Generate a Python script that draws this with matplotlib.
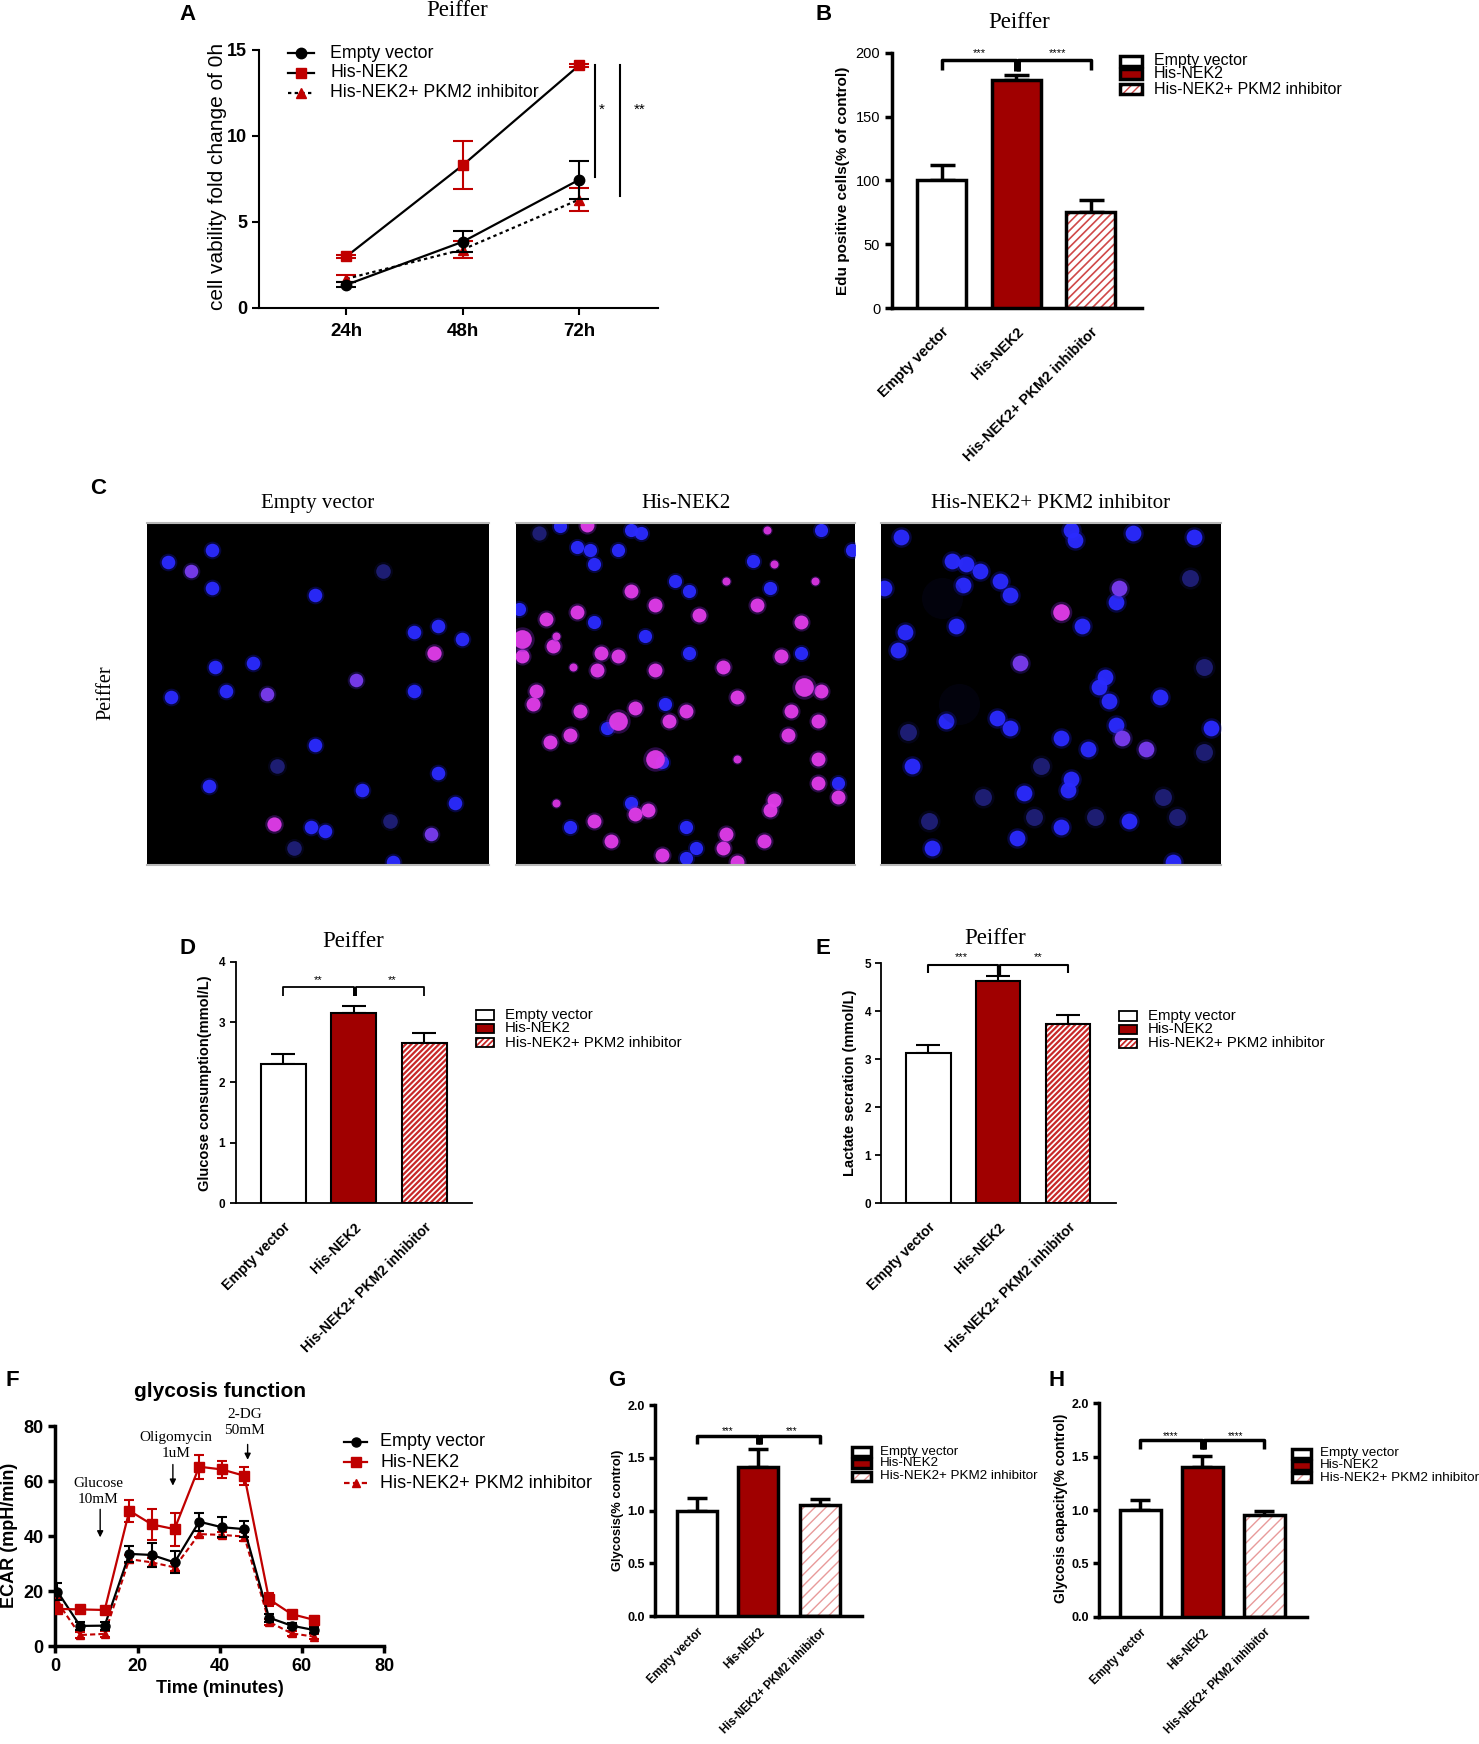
import numpy as np
import matplotlib
matplotlib.use('Agg')
import matplotlib.pyplot as plt
from matplotlib.patches import Rectangle
from matplotlib.lines import Line2D

plt.rcParams['font.family'] = ['Liberation Sans', 'DejaVu Sans']
SERIF = ['Liberation Serif', 'DejaVu Serif']

W, H = 1479, 1744
DARKRED = '#a00000'
RED = '#c00000'

groups = ['Empty vector', 'His-NEK2', 'His-NEK2+ PKM2 inhibitor']

# ---------------- data ----------------
a_times = ['24h', '48h', '72h']
a_empty = [1.35, 3.85, 7.45]
a_empty_err = [0.15, 0.6, 1.1]
a_nek2 = [3.0, 8.3, 14.1]
a_nek2_err = [0.1, 1.4, 0.1]
a_inh = [1.7, 3.4, 6.3]
a_inh_err = [0.2, 0.5, 0.65]
a_sig = ['*', '**']

b_vals = [100, 179, 75]
b_errs = [12, 4, 10]
b_sig = ['***', '****']

d_vals = [2.30, 3.15, 2.65]
d_errs = [0.17, 0.12, 0.17]
d_sig = ['**', '**']

e_vals = [3.13, 4.63, 3.73]
e_errs = [0.17, 0.11, 0.19]
e_sig = ['***', '**']

f_time = [0.5, 6, 12, 18, 23.5, 29, 35, 40.5, 46, 52, 57.5, 63]
f_empty = [19.8, 7.3, 7.4, 33.5, 33.1, 30.4, 45.2, 43.2, 42.5, 10.3, 7.4, 5.8]
f_empty_err = [3.0, 1.5, 1.5, 3.0, 4.5, 4.0, 3.3, 3.6, 3.0, 1.5, 1.0, 1.2]
f_nek2 = [13.5, 13.3, 13.1, 49.2, 44.2, 42.5, 65.2, 64.2, 61.9, 17.0, 11.6, 9.5]
f_nek2_err = [1.5, 1.0, 1.0, 4.0, 5.5, 6.0, 4.3, 3.0, 3.3, 2.4, 1.0, 1.0]
f_inh = [16.0, 4.0, 4.4, 31.6, 30.4, 28.6, 40.7, 40.4, 39.8, 8.8, 4.6, 3.4]
f_inh_err = [1.5, 1.0, 1.0, 1.5, 1.5, 1.5, 1.0, 1.0, 1.5, 1.0, 1.0, 1.0]
f_inj_labels = ['Glucose\n10mM', 'Oligomycin\n1uM', '2-DG\n50mM']
f_inj_text_x = [10.5, 29.3, 46.0]
f_inj_text_y = [56.1, 72.9, 81.3]
f_inj_arrow_x = [10.9, 28.6, 46.8]
f_inj_arrow_y0 = [50.7, 67.0, 74.3]
f_inj_arrow_y1 = [38.5, 57.3, 66.7]

g_vals = [1.0, 1.415, 1.05]
g_errs = [0.115, 0.165, 0.055]
g_sig = ['***', '***']

h_vals = [1.0, 1.40, 0.953]
h_errs = [0.094, 0.11, 0.037]
h_sig = ['****', '****']

# microscopy nuclei (normalised position in image, kind)
c1_x = [0.06, 0.13, 0.19, 0.19, 0.49, 0.85, 0.78, 0.92, 0.84, 0.20, 0.31, 0.61, 0.07, 0.23, 0.35,
        0.78, 0.49, 0.85, 0.18, 0.63, 0.38, 0.90, 0.37, 0.48, 0.52, 0.71, 0.83, 0.43, 0.69, 0.72]
c1_y = [0.115, 0.14, 0.08, 0.19, 0.21, 0.30, 0.32, 0.34, 0.38, 0.42, 0.41, 0.46, 0.51, 0.49, 0.50,
        0.49, 0.65, 0.73, 0.77, 0.78, 0.71, 0.82, 0.88, 0.89, 0.90, 0.87, 0.91, 0.95, 0.14, 0.99]
c1_k = "bpbbbbbbmbbpbbpbbbbbdbmbbdpddb"

c2_x = [0.13, 0.21, 0.34, 0.37, 0.18, 0.22, 0.30, 0.23, 0.70, 0.90,
        0.99, 0.07, 0.74, 0.76, 0.47, 0.51, 0.75, 0.62, 0.88, 0.34,
        0.41, 0.71, 0.18, 0.23, 0.09, 0.01, 0.12, 0.02, 0.02, 0.11,
        0.38, 0.51, 0.25, 0.30, 0.17, 0.24, 0.41, 0.61, 0.78, 0.84,
        0.54, 0.84, 0.06, 0.05, 0.85, 0.90, 0.65, 0.19, 0.35, 0.44,
        0.50, 0.30, 0.27, 0.45, 0.81, 0.89, 0.10, 0.16, 0.80, 0.41,
        0.43, 0.65, 0.89, 0.95, 0.89, 0.34, 0.39, 0.35, 0.23, 0.12,
        0.76, 0.75, 0.95, 0.16, 0.50, 0.62, 0.61, 0.53, 0.43, 0.28,
        0.73, 0.50, 0.65]
c2_y = [0.01, 0.005, 0.02, 0.03, 0.07, 0.08, 0.08, 0.12, 0.11, 0.02,
        0.08, 0.03, 0.02, 0.12, 0.17, 0.20, 0.19, 0.17, 0.17, 0.20,
        0.24, 0.24, 0.26, 0.29, 0.28, 0.25, 0.33, 0.34, 0.39, 0.36,
        0.33, 0.38, 0.38, 0.39, 0.42, 0.43, 0.43, 0.42, 0.39, 0.38,
        0.27, 0.29, 0.49, 0.53, 0.48, 0.49, 0.51, 0.55, 0.54, 0.53,
        0.55, 0.58, 0.60, 0.58, 0.55, 0.58, 0.64, 0.62, 0.62, 0.69,
        0.70, 0.69, 0.69, 0.76, 0.76, 0.82, 0.84, 0.85, 0.87, 0.82,
        0.81, 0.84, 0.80, 0.89, 0.89, 0.91, 0.95, 0.95, 0.97, 0.93,
        0.93, 0.98, 0.99]
c2_k = "bmbbbbbbbb" "bdssbbbssm" "mmmbmbsMmm" "bbmmsmmmmb" "mmmmMmmmmb" \
       "mMbmmmmmmM" "bsmbmbmmms" "mmmbbmmbmm" "mbm"

c3_x = [0.06, 0.56, 0.57, 0.74, 0.92, 0.21, 0.25, 0.29, 0.35, 0.24,
        0.38, 0.01, 0.18, 0.70, 0.69, 0.91, 0.53, 0.59, 0.22, 0.07,
        0.05, 0.41, 0.66, 0.64, 0.67, 0.82, 0.95, 0.19, 0.23, 0.34,
        0.38, 0.69, 0.71, 0.53, 0.61, 0.78, 0.97, 0.95, 0.08, 0.09,
        0.47, 0.56, 0.55, 0.42, 0.30, 0.14, 0.45, 0.63, 0.53, 0.73,
        0.87, 0.40, 0.15, 0.86, 0.83]
c3_y = [0.04, 0.02, 0.05, 0.03, 0.04, 0.11, 0.12, 0.14, 0.17, 0.18,
        0.21, 0.19, 0.22, 0.19, 0.23, 0.16, 0.26, 0.30, 0.30, 0.32,
        0.37, 0.41, 0.45, 0.48, 0.52, 0.51, 0.42, 0.58, 0.53, 0.57,
        0.60, 0.59, 0.63, 0.63, 0.66, 0.66, 0.60, 0.67, 0.61, 0.71,
        0.71, 0.75, 0.78, 0.79, 0.80, 0.87, 0.86, 0.86, 0.89, 0.87,
        0.86, 0.92, 0.95, 0.99, 0.80]
c3_k = "bbbbbbbbbb" "bbDpbdmbbb" "bpbbbbdbDb" "bbpbbpbddb" "dbbbddddbb" "dbbbd"

c_titles = ['Empty vector', 'His-NEK2', 'His-NEK2+ PKM2 inhibitor']

# ---------------- helpers ----------------
fig = plt.figure(figsize=(W / 100, H / 100), dpi=100)
fig.patch.set_facecolor('white')


def FX(x):
    return x / W


def FY(y):
    return 1 - y / H


def add_ax(l, t, r, b):
    return fig.add_axes([l / W, 1 - b / H, (r - l) / W, (b - t) / H])


def ftext(x, y, s, **kw):
    return fig.text(FX(x), FY(y), s, **kw)


def style_axes(ax, lw, ticklen=5):
    for sp in ['top', 'right']:
        ax.spines[sp].set_visible(False)
    for sp in ['left', 'bottom']:
        ax.spines[sp].set_linewidth(lw)
    ax.tick_params(width=lw, length=ticklen, direction='out')


def hatched_bar(ax, x, h, width, hatch, hcolor, hlw, lw):
    with plt.rc_context({'hatch.linewidth': hlw}):
        bb = ax.bar(x, h, width, color='white', edgecolor=hcolor, hatch=hatch, linewidth=0, zorder=2)
    for p in bb:
        if hasattr(p, 'set_hatch_linewidth'):
            p.set_hatch_linewidth(hlw)
    ax.bar(x, h, width, fill=False, edgecolor='k', linewidth=lw, zorder=3)


def bar_panel(ax, vals, errs, width, lw, capsize, hatch, hcolor, hlw):
    pos = np.arange(len(vals))
    ax.errorbar(pos, vals, yerr=[np.zeros(len(vals)), errs], fmt='none', ecolor='k',
                elinewidth=lw, capsize=capsize, capthick=lw, zorder=1)
    ax.bar(pos[0], vals[0], width, color='white', edgecolor='k', linewidth=lw, zorder=3)
    ax.bar(pos[1], vals[1], width, color=DARKRED, edgecolor='k', linewidth=lw, zorder=3)
    hatched_bar(ax, pos[2], vals[2], width, hatch, hcolor, hlw, lw)
    return pos


def brackets(ax, ybar, ytip, ycenter, lw, sig, ysig, fs, sigx=(0.5, 1.55)):
    ax.plot([0, 0, 1, 1], [ytip, ybar, ybar, ytip], color='k', lw=lw, clip_on=False,
            solid_capstyle='butt', zorder=5)
    ax.plot([1.03, 1.03, 2, 2], [ycenter, ybar, ybar, ytip], color='k', lw=lw, clip_on=False,
            solid_capstyle='butt', zorder=5)
    ax.plot([1.015, 1.015], [ybar, ycenter], color='k', lw=lw * 2, clip_on=False,
            solid_capstyle='butt', zorder=5)
    for s, xx in zip(sig, sigx):
        ax.text(xx, ysig, s, ha='center', va='center', fontsize=fs, clip_on=False)


def patch_legend(xbox, wbox, hbox, xtext, rows, fs, lw, hatch, hcolor, hlw, weight='normal'):
    fills = ['white', DARKRED, 'white']
    for i, (y, lab) in enumerate(zip(rows, groups)):
        if i == 2:
            with plt.rc_context({'hatch.linewidth': hlw}):
                r0 = Rectangle((FX(xbox), FY(y + hbox / 2)), wbox / W, hbox / H, transform=fig.transFigure,
                               facecolor='white', edgecolor=hcolor, hatch=hatch, linewidth=0)
            if hasattr(r0, 'set_hatch_linewidth'):
                r0.set_hatch_linewidth(hlw)
            fig.add_artist(r0)
            r1 = Rectangle((FX(xbox), FY(y + hbox / 2)), wbox / W, hbox / H, transform=fig.transFigure,
                           fill=False, edgecolor='k', linewidth=lw)
        else:
            r1 = Rectangle((FX(xbox), FY(y + hbox / 2)), wbox / W, hbox / H, transform=fig.transFigure,
                           facecolor=fills[i], edgecolor='k', linewidth=lw)
        fig.add_artist(r1)
        ftext(xtext, y, lab, fontsize=fs, va='center', ha='left', weight=weight)


def line_legend(x0, x1, xtext, rows, fs, specs):
    for y, lab, (ls, lc, mk, mc, ms) in zip(rows, groups, specs):
        fig.add_artist(Line2D([FX(x0), FX(x1)], [FY(y), FY(y)], transform=fig.transFigure,
                              color=lc, ls=ls, lw=1.6))
        fig.add_artist(Line2D([FX((x0 + x1) / 2)], [FY(y)], transform=fig.transFigure,
                              marker=mk, color=mc, ms=ms, ls='none'))
        ftext(xtext, y, lab, fontsize=fs, va='center', ha='left')


def letter(x, y, s):
    ftext(x, y, s, fontsize=16, weight='bold', ha='center', va='center')


# ---------------- Panel A ----------------
axA = add_ax(259, 50, 658, 308)
style_axes(axA, 1.5, 5)
xa = np.arange(1, 4)
axA.errorbar(xa, a_inh, yerr=a_inh_err, color='k', ls=(0, (1.5, 1.5)), lw=1.6, marker='^',
             mfc=RED, mec=RED, ms=7, ecolor=RED, elinewidth=1.5, capsize=7, capthick=1.5, zorder=3)
axA.errorbar(xa, a_empty, yerr=a_empty_err, color='k', ls='-', lw=1.6, marker='o',
             mfc='k', mec='k', ms=7.5, ecolor='k', elinewidth=1.5, capsize=7, capthick=1.5, zorder=4)
axA.errorbar(xa, a_nek2, yerr=a_nek2_err, color='k', ls='-', lw=1.6, marker='s',
             mfc=RED, mec=RED, ms=7.5, ecolor=RED, elinewidth=1.5, capsize=7, capthick=1.5, zorder=4)
axA.set_xlim(0.248, 3.68)
axA.set_ylim(0, 15)
axA.set_yticks([0, 5, 10, 15], ['0', '5', '10', '15'], fontsize=13, fontweight='bold')
axA.set_xticks(xa, a_times, fontsize=13.5, fontweight='bold')
axA.tick_params(axis='x', pad=6)
axA.plot([3.14, 3.14], [7.6, 14.1], color='k', lw=1.5)
axA.plot([3.35, 3.35], [6.5, 14.1], color='k', lw=1.5)
axA.text(3.2, 11.5, a_sig[0], fontsize=11, ha='center', va='center')
axA.text(3.52, 11.5, a_sig[1], fontsize=11, ha='center', va='center')
ftext(217, 176, 'cell vability fold change of 0h', fontsize=15, rotation=90, ha='center', va='center')
ftext(457, 10, 'Peiffer', fontsize=16.5, family=SERIF, ha='center', va='center')
letter(188, 15, 'A')
line_legend(287.5, 313.5, 330, [53.3, 72.7, 92.7], 12.8,
            [('-', 'k', 'o', 'k', 7.5), ('-', 'k', 's', RED, 7.5), ((0, (1.5, 1.5)), 'k', '^', RED, 7)])

# ---------------- Panel B ----------------
axB = add_ax(892, 53, 1142, 308)
style_axes(axB, 2.5, 5)
bar_panel(axB, b_vals, b_errs, 0.657, 2.5, 9, '////', '#d04848', 1.2)
axB.set_xlim(-0.67, 2.69)
axB.set_ylim(0, 200)
axB.set_yticks([0, 50, 100, 150, 200], ['0', '50', '100', '150', '200'], fontsize=10.5)
axB.set_xticks(np.arange(3), groups, fontsize=10.5, fontweight='bold', rotation=45,
               ha='right', rotation_mode='anchor')
axB.tick_params(axis='x', length=0, pad=12)
brackets(axB, 194.5, 186.7, 186.0, 2.5, b_sig, 200, 8)
ftext(843, 181, 'Edu positive cells(% of control)', fontsize=11, weight='bold', rotation=90,
      ha='center', va='center')
ftext(1019, 22, 'Peiffer', fontsize=16.5, family=SERIF, ha='center', va='center')
letter(824, 15, 'B')
patch_legend(1120, 21.5, 10, 1154, [60.7, 74, 89.3], 11.5, 2.5, '////', '#d04848', 1.0)

# ---------------- Panel C ----------------
KIND = {
    'b': ('#2b2bff', '#1414b0', 95, 1.0),
    'm': ('#e03ce8', '#7a22c8', 105, 1.0),
    'M': ('#e03ce8', '#7a22c8', 190, 1.0),
    's': ('#d835e0', '#6a20b8', 35, 1.0),
    'p': ('#7a3cf0', '#3a1aa8', 95, 1.0),
    'd': ('#2a2aa0', '#141460', 110, 0.7),
    'D': ('#1e1e7a', '#121250', 380, 0.45),
}
img_rects = [(147, 523, 489, 865), (515.5, 523, 855.5, 865), (881, 523, 1221, 865)]
img_data = [(c1_x, c1_y, c1_k, 1.0), (c2_x, c2_y, c2_k, 0.95), (c3_x, c3_y, c3_k, 1.35)]
for (l, t, r, b), (xs, ys, ks, scale), title in zip(img_rects, img_data, c_titles):
    ax = add_ax(l, t, r, b)
    ax.set_facecolor('black')
    ax.set_xlim(0, 1)
    ax.set_ylim(1, 0)
    ax.set_xticks([])
    ax.set_yticks([])
    for sp in ['left', 'right']:
        ax.spines[sp].set_visible(False)
    for sp in ['top', 'bottom']:
        ax.spines[sp].set_color('#b8b8b8')
        ax.spines[sp].set_linewidth(1.5)
    xs = np.array(xs)
    ys = np.array(ys)
    ks = np.array(list(ks))
    for k, (core, halo, s, alpha) in KIND.items():
        sel = ks == k
        if not sel.any():
            continue
        ax.scatter(xs[sel], ys[sel], s=s * scale * 1.7, color=halo, alpha=0.35 * alpha, lw=0)
        if k != 'D':
            ax.scatter(xs[sel], ys[sel], s=s * scale, color=core, alpha=0.95 * alpha, lw=0)
    ftext((l + r) / 2, 503, title, fontsize=15, family=SERIF, ha='center', va='center')
ftext(106, 693, 'Peiffer', fontsize=14.5, family=SERIF, rotation=90, ha='center', va='center')
letter(98, 488, 'C')

# ---------------- Panel D ----------------
axD = add_ax(235.6, 961.7, 472, 1203.3)
style_axes(axD, 1.3, 4)
bar_panel(axD, d_vals, d_errs, 0.643, 1.5, 8.3, '//////', '#c82828', 1.6)
axD.set_xlim(-0.68, 2.68)
axD.set_ylim(0, 4)
axD.set_yticks([0, 1, 2, 3, 4], ['0', '1', '2', '3', '4'], fontsize=8.5, fontweight='bold')
axD.set_xticks(np.arange(3), groups, fontsize=10.2, fontweight='bold', rotation=45, ha='right',
               rotation_mode='anchor')
axD.tick_params(axis='x', length=0, pad=12)
brackets(axD, 3.58, 3.43, 3.43, 1.3, d_sig, 3.70, 8, sigx=(0.5, 1.54))
ftext(205, 1083, 'Glucose consumption(mmol/L)', fontsize=10.5, weight='bold', rotation=90,
      ha='center', va='center')
ftext(353.6, 941.7, 'Peiffer', fontsize=16.5, family=SERIF, ha='center', va='center')
letter(187, 948, 'D')
patch_legend(475.6, 18, 9.3, 505, [1015, 1028.3, 1042.7], 10.8, 1.3, '//////', '#c82828', 1.3)

# ---------------- Panel E ----------------
axE = add_ax(881.3, 963.3, 1115.6, 1203.3)
style_axes(axE, 1.3, 4)
bar_panel(axE, e_vals, e_errs, 0.64, 1.5, 8.3, '//////', '#c82828', 1.6)
axE.set_xlim(-0.67, 2.68)
axE.set_ylim(0, 5)
axE.set_yticks([0, 1, 2, 3, 4, 5], ['0', '1', '2', '3', '4', '5'], fontsize=8.5, fontweight='bold')
axE.set_xticks(np.arange(3), groups, fontsize=10.2, fontweight='bold', rotation=45, ha='right',
               rotation_mode='anchor')
axE.tick_params(axis='x', length=0, pad=12)
brackets(axE, 4.97, 4.79, 4.75, 1.5, e_sig, 5.14, 8, sigx=(0.47, 1.57))
ftext(850, 1083, 'Lactate secration (mmol/L)', fontsize=10.5, weight='bold', rotation=90,
      ha='center', va='center')
ftext(995.4, 938.3, 'Peiffer', fontsize=16.5, family=SERIF, ha='center', va='center')
letter(823, 948, 'E')
patch_legend(1118.5, 18.5, 9.3, 1148, [1016, 1029.3, 1043.3], 10.8, 1.3, '//////', '#c82828', 1.3)

# ---------------- Panel F ----------------
axF = add_ax(55.4, 1426, 384, 1646)
style_axes(axF, 2.5, 5)
axF.errorbar(f_time, f_inh, yerr=f_inh_err, color=RED, ls=(0, (2.5, 1.5)), lw=1.5, marker='^',
             ms=6, ecolor=RED, elinewidth=1.5, capsize=3.5, capthick=1.5, zorder=3)
axF.errorbar(f_time, f_empty, yerr=f_empty_err, color='k', ls='-', lw=1.6, marker='o',
             ms=6.5, ecolor='k', elinewidth=1.5, capsize=3.5, capthick=1.5, zorder=4)
axF.errorbar(f_time, f_nek2, yerr=f_nek2_err, color=RED, ls='-', lw=1.6, marker='s',
             ms=6.5, ecolor=RED, elinewidth=1.5, capsize=3.5, capthick=1.5, zorder=4)
axF.set_xlim(0, 80)
axF.set_ylim(0, 80)
axF.set_xticks([0, 20, 40, 60, 80], ['0', '20', '40', '60', '80'], fontsize=13, fontweight='bold')
axF.set_yticks([0, 20, 40, 60, 80], ['0', '20', '40', '60', '80'], fontsize=13, fontweight='bold')
for lab, tx, ty, axx, y0, y1 in zip(f_inj_labels, f_inj_text_x, f_inj_text_y, f_inj_arrow_x,
                                     f_inj_arrow_y0, f_inj_arrow_y1):
    axF.text(tx, ty, lab, ha='center', va='center', family=SERIF, fontsize=11, linespacing=1.35)
    axF.annotate('', xy=(axx, y1), xytext=(axx, y0),
                 arrowprops=dict(arrowstyle='-|>', color='k', lw=1.0, mutation_scale=9))
axF.set_xlabel('Time (minutes)', fontsize=13, fontweight='bold')
ftext(10, 1535, 'ECAR (mpH/min)', fontsize=13, weight='bold', rotation=90, ha='center', va='center')
ftext(220, 1391, 'glycosis function', fontsize=15, weight='bold', ha='center', va='center')
letter(12, 1380, 'F')
line_legend(344, 367, 380, [1441.7, 1462.3, 1483.3], 13,
            [('-', 'k', 'o', 'k', 6.5), ('-', RED, 's', RED, 6.5), ((0, (2.5, 1.5)), RED, '^', RED, 6)])

# ---------------- Panel G ----------------
axG = add_ax(655, 1405, 861.7, 1616)
style_axes(axG, 2.5, 4)
bar_panel(axG, g_vals, g_errs, 0.655, 2.5, 7.4, '///', '#e89a9a', 1.0)
axG.set_xlim(-0.68, 2.68)
axG.set_ylim(0, 2)
axG.set_yticks([0, 0.5, 1.0, 1.5, 2.0], ['0.0', '0.5', '1.0', '1.5', '2.0'], fontsize=9, fontweight='bold')
axG.set_xticks(np.arange(3), groups, fontsize=8.3, fontweight='bold', rotation=45, ha='right',
               rotation_mode='anchor')
axG.tick_params(axis='x', length=0, pad=7)
brackets(axG, 1.706, 1.627, 1.627, 2.5, g_sig, 1.75, 7, sigx=(0.5, 1.54))
ftext(618, 1510, 'Glycosis(% control)', fontsize=9.4, weight='bold', rotation=90, ha='center', va='center')
letter(617, 1380, 'G')
patch_legend(851.7, 19, 9, 880, [1451.7, 1463.3, 1476], 9.6, 2.5, '///', '#e89a9a', 1.0)

# ---------------- Panel H ----------------
axH = add_ax(1099, 1403.3, 1306.7, 1616.7)
style_axes(axH, 2.5, 4)
bar_panel(axH, h_vals, h_errs, 0.655, 2.5, 7.2, '///', '#e89a9a', 1.0)
axH.set_xlim(-0.665, 2.68)
axH.set_ylim(0, 2)
axH.set_yticks([0, 0.5, 1.0, 1.5, 2.0], ['0.0', '0.5', '1.0', '1.5', '2.0'], fontsize=9, fontweight='bold')
axH.set_xticks(np.arange(3), groups, fontsize=8.3, fontweight='bold', rotation=45, ha='right',
               rotation_mode='anchor')
axH.tick_params(axis='x', length=0, pad=7)
brackets(axH, 1.656, 1.572, 1.572, 2.5, h_sig, 1.69, 7, sigx=(0.49, 1.53))
ftext(1061, 1508, 'Glycosis capacity(% control)', fontsize=10, weight='bold', rotation=90,
      ha='center', va='center')
letter(1057, 1380, 'H')
patch_legend(1291.7, 19, 9, 1320, [1453.3, 1465, 1477.7], 9.7, 2.5, '///', '#e89a9a', 1.0)

fig.savefig('out.png', dpi=100, facecolor='white')
